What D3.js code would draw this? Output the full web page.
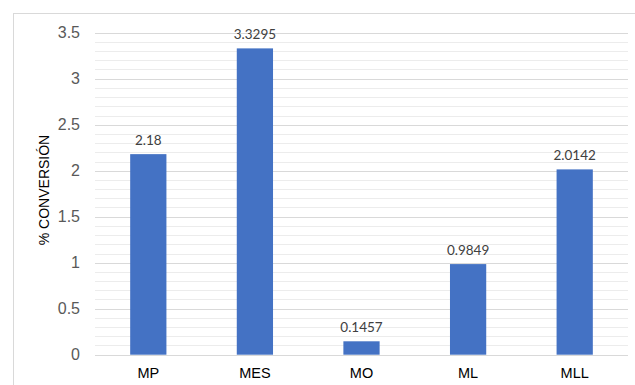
<!DOCTYPE html>
<html><head><meta charset="utf-8">
<script src="https://cdn.jsdelivr.net/npm/d3@7"></script>
<style>body{margin:0;background:#fff}</style>
</head><body>
<script>
const categories = ["MP","MES","MO","ML","MLL"];
const values = [2.18, 3.3295, 0.1457, 0.9849, 2.0142];
const valueLabels = ["2.18","3.3295","0.1457","0.9849","2.0142"];
const yTicks = [0,0.5,1,1.5,2,2.5,3,3.5];
const yTitle = "% CONVERSIÓN";

(function(){
const W=635,H=385;
const svg=d3.select("body").append("svg").attr("width",W).attr("height",H);
svg.append("rect").attr("x",13.5).attr("y",13.5).attr("width",W).attr("height",H).attr("fill","none").attr("stroke","#d9d9d9");
const pl=95,pr=628,pt=32.7,pb=354.7;
const x=d3.scaleBand().domain(categories).range([pl,pr]).paddingInner(0.66).paddingOuter(0.33);
const y=d3.scaleLinear().domain([0,3.5]).range([pb,pt]);
const minor=d3.range(0,3.51,0.1).map(v=>+v.toFixed(1));
svg.append("g").selectAll("line").data(minor).join("line")
  .attr("x1",pl).attr("x2",pr).attr("y1",d=>Math.round(y(d))+0.5).attr("y2",d=>Math.round(y(d))+0.5)
  .attr("stroke","#ececec");
svg.append("g").selectAll("line").data(yTicks).join("line")
  .attr("x1",pl).attr("x2",pr).attr("y1",d=>Math.round(y(d))+0.5).attr("y2",d=>Math.round(y(d))+0.5)
  .attr("stroke","#d9d9d9");
svg.append("g").selectAll("text").data(yTicks).join("text")
  .attr("x",80).attr("y",d=>y(d)).attr("dy","0.35em").attr("text-anchor","end")
  .attr("font-family","Liberation Sans, Arial").attr("font-size",16).attr("fill","#595959").text(d=>d);
svg.append("g").selectAll("rect").data(values).join("rect")
  .attr("x",(d,i)=>x(categories[i])).attr("width",x.bandwidth())
  .attr("y",d=>y(d)).attr("height",d=>y(0)-y(d)).attr("fill","#4472c4");
svg.append("g").selectAll("text").data(values).join("text")
  .attr("x",(d,i)=>x(categories[i])+x.bandwidth()/2).attr("y",d=>y(d)-9)
  .attr("text-anchor","middle").attr("font-family","Lato, Carlito, sans-serif").attr("font-size",13.5).attr("fill","#404040")
  .text((d,i)=>valueLabels[i]);
svg.append("g").selectAll("text").data(categories).join("text")
  .attr("x",d=>x(d)+x.bandwidth()/2).attr("y",378).attr("text-anchor","middle")
  .attr("font-family","Liberation Sans, Arial").attr("font-size",14.5).attr("fill","#000").text(d=>d);
svg.append("text").attr("transform","translate(49,190) rotate(-90)").attr("text-anchor","middle")
  .attr("font-family","Liberation Sans, Arial").attr("font-size",14).attr("fill","#000").text(yTitle);
})();
</script>
</body></html>
